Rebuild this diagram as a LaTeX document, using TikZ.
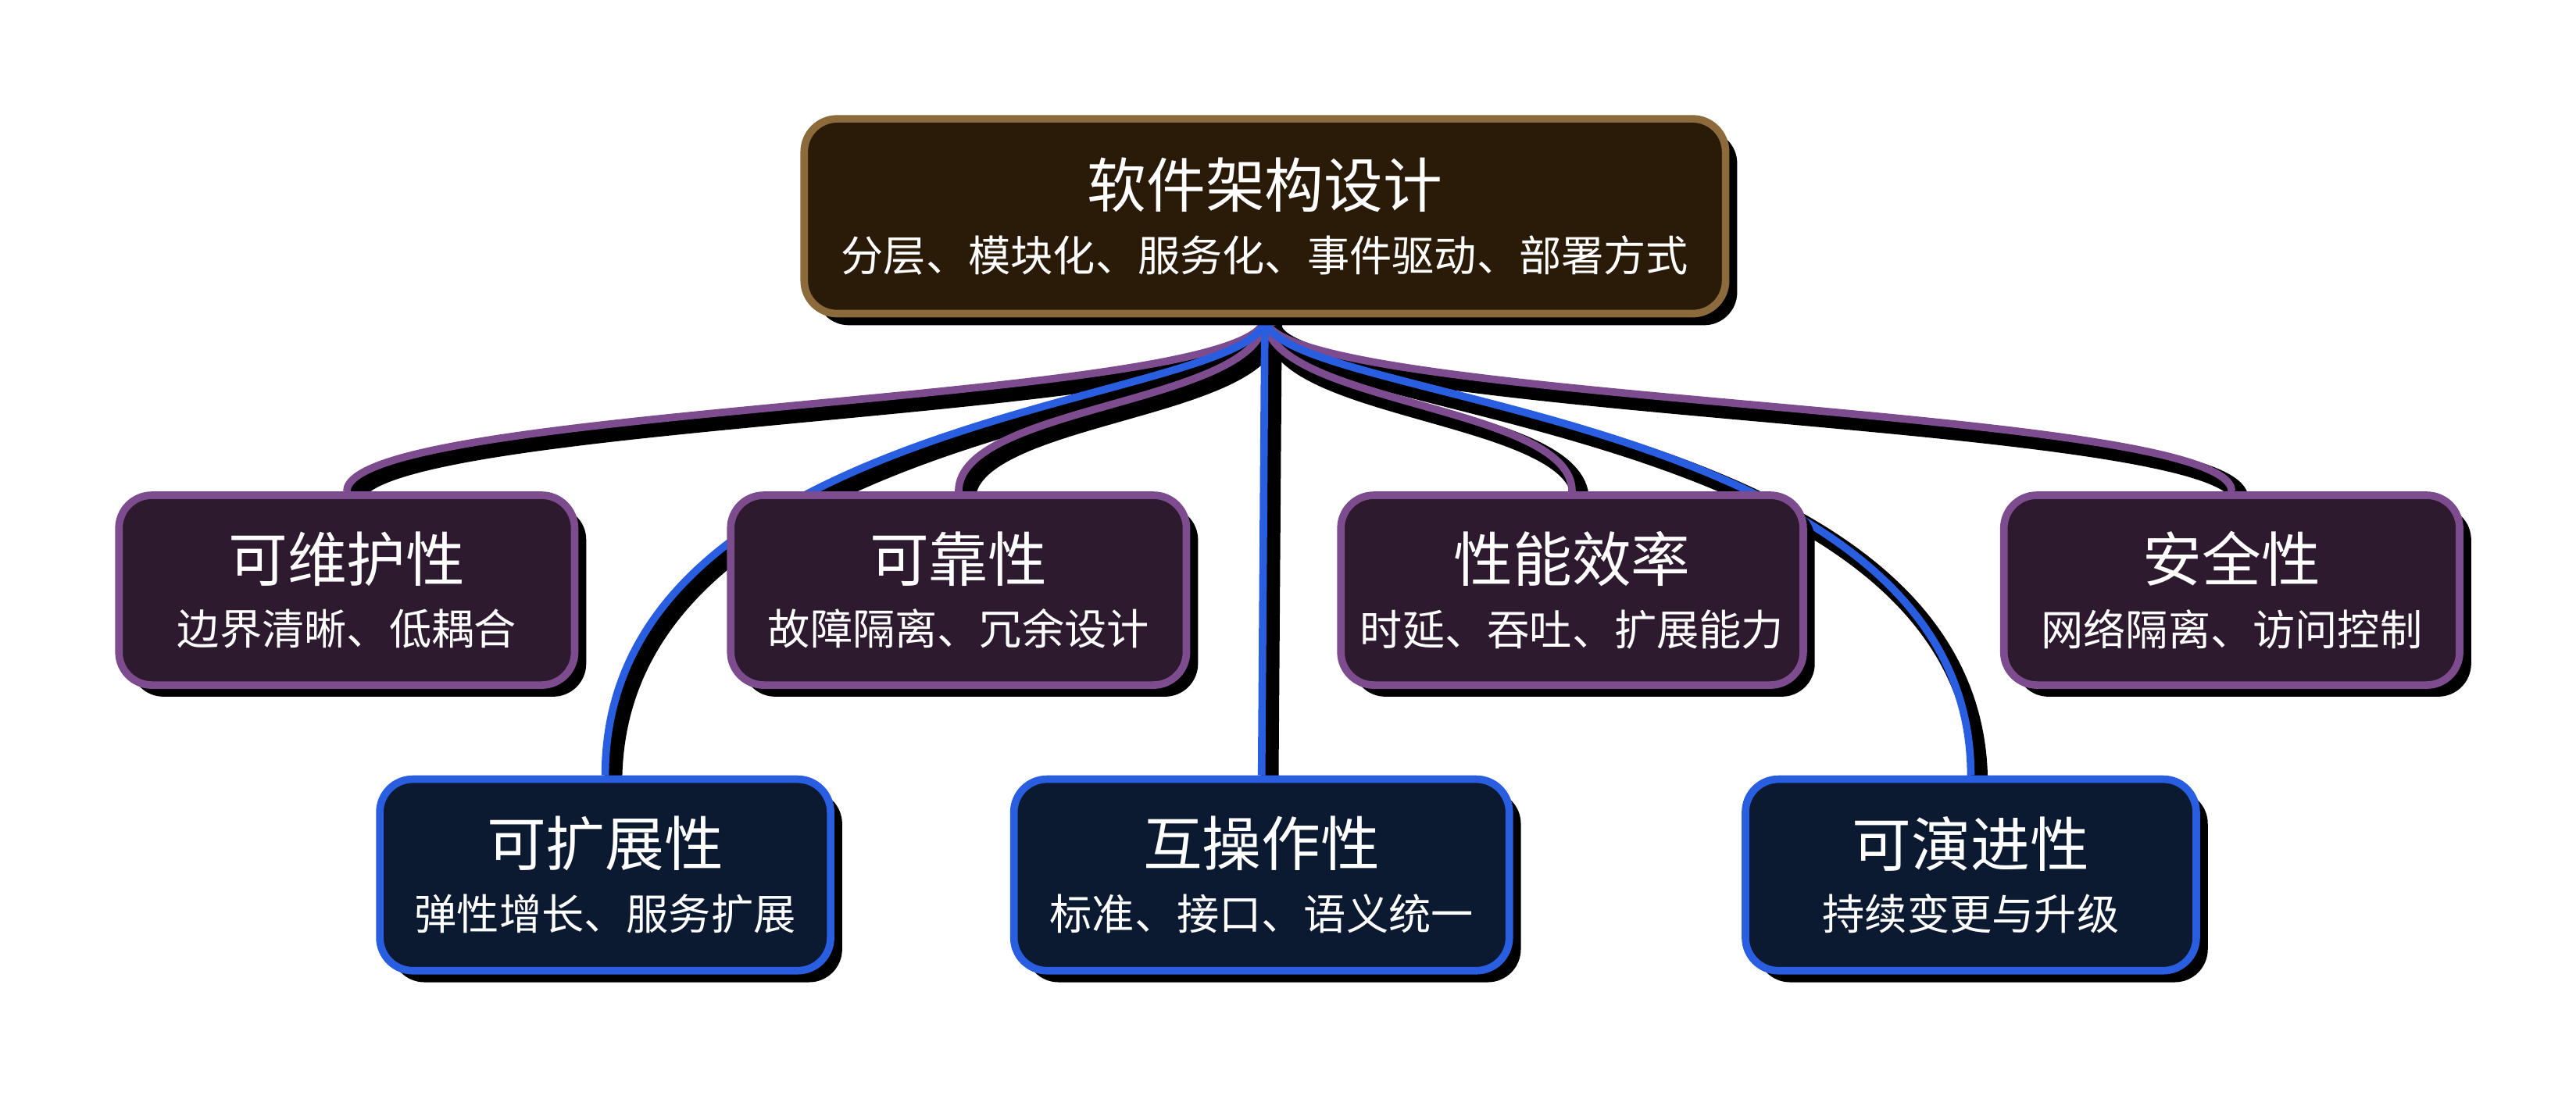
\documentclass[tikz,border=0pt]{standalone}
\usepackage{fontspec}
\setmainfont{Noto Sans CJK SC}
\usetikzlibrary{shadows,backgrounds}
\definecolor{rootfill}{HTML}{2A1A08}
\definecolor{rootline}{HTML}{8C6A3C}
\definecolor{purfill}{HTML}{2D1A2E}
\definecolor{purline}{HTML}{7C4C8E}
\definecolor{bluefill}{HTML}{0B1A31}
\definecolor{blueline}{HTML}{2A5EE0}
\tikzset{
  box/.style={draw, line width=1.3pt, rounded corners=0.2cm, text=white, align=center,
    drop shadow={shadow xshift=0.07, shadow yshift=-0.07, opacity=1, fill=black}},
  rootbox/.style={box, fill=rootfill, draw=rootline, minimum width=5.58cm, minimum height=1.18cm},
  upbox/.style={box, fill=purfill, draw=purline, minimum width=2.76cm, minimum height=1.15cm},
  lowbox/.style={box, fill=bluefill, draw=blueline, minimum width=2.73cm, minimum height=1.16cm},
  shade line/.style={line width=3pt, black, transform canvas={xshift=0.05cm, yshift=-0.05cm}},
  uplink/.style={line width=1.3pt, purline},
  lowlink/.style={line width=1.3pt, blueline},
}
\newcommand{\boxtext}[2]{{\fontsize{10.2}{12}\selectfont #1}\\[-1pt]{\fontsize{7.3}{9}\selectfont #2}}
\begin{document}
\begin{tikzpicture}
\useasboundingbox (0,0) rectangle (15.6,-6.657);

\node[rootbox] (top) at (7.66,-1.31) {\boxtext{软件架构设计}{分层、模块化、服务化、事件驱动、部署方式}};

\node[upbox] (maint) at (2.1,-3.575) {\boxtext{可维护性}{边界清晰、低耦合}};
\node[upbox] (reli) at (5.805,-3.575) {\boxtext{可靠性}{故障隔离、冗余设计}};
\node[upbox] (perf) at (9.52,-3.575) {\boxtext{性能效率}{时延、吞吐、扩展能力}};
\node[upbox] (secu) at (13.515,-3.575) {\boxtext{安全性}{网络隔离、访问控制}};

\node[lowbox] (scal) at (3.665,-5.3) {\boxtext{可扩展性}{弹性增长、服务扩展}};
\node[lowbox, minimum width=3cm] (inter) at (7.64,-5.3) {\boxtext{互操作性}{标准、接口、语义统一}};
\node[lowbox] (evol) at (11.935,-5.3) {\boxtext{可演进性}{持续变更与升级}};

\begin{scope}[on background layer]
% shadows of the links
\foreach \t in {maint,reli,perf,secu,scal,evol}
  \draw[shade line] (top.south) .. controls (top.south |- 0,-2.45) and (\t.north |- 0,-2.45) .. (\t.north);
\draw[shade line] (top.south) -- (inter.north);
% links
\foreach \t in {maint,reli,perf,secu}
  \draw[uplink] (top.south) .. controls (top.south |- 0,-2.45) and (\t.north |- 0,-2.45) .. (\t.north);
\foreach \t in {scal,evol}
  \draw[lowlink] (top.south) .. controls (top.south |- 0,-2.45) and (\t.north |- 0,-2.45) .. (\t.north);
\draw[lowlink] (top.south) -- (inter.north);
\end{scope}
\end{tikzpicture}
\end{document}
